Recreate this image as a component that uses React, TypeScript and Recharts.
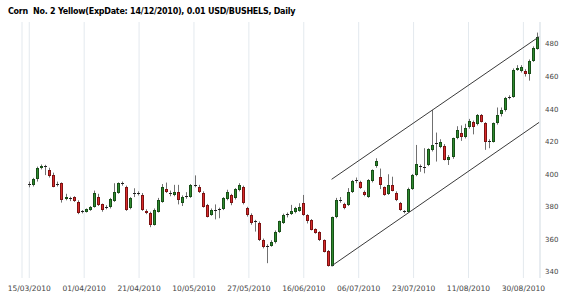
import { ComposedChart, Bar, XAxis, YAxis, CartesianGrid, ReferenceLine } from 'recharts';

const tickLabels = [
  '15/03/2010', '01/04/2010', '21/04/2010', '10/05/2010', '27/05/2010',
  '16/06/2010', '06/07/2010', '23/07/2010', '11/08/2010', '30/08/2010',
];
const priceTicks = [340, 360, 380, 400, 420, 440, 460, 480];

const open = [
  393.5, 393.3, 396.9, 403.7, 405.3, 402.7, 399.6, 393.5, 394.5, 385,
  385.5, 385.9, 383.2, 377, 377, 378.1, 380.1, 386.3, 381.6, 379.6,
  379.7, 383.8, 388.7, 394.3, 392.4, 379.1, 388, 388.2, 387.3, 377.7,
  376.5, 368.9, 377, 383.2, 390.8, 388.7, 387.3, 389.4, 382.2, 386.3,
  386.3, 393, 392.4, 388.7, 381.2, 375, 378.2, 378.3, 378.5, 384.6,
  387.3, 385.3, 390.4, 392.4, 379.1, 375, 370.5, 370.3, 359.7, 355.3,
  356, 358.1, 364.8, 370.3, 375, 375.7, 377, 377.7, 382.2, 375,
  372, 366.2, 364.8, 359.7, 353.1, 343.7, 373.6, 383.8, 381.8, 381.2,
  389.2, 395.8, 395, 389.4, 386.1, 395.8, 404.9, 398.1, 391.9, 388,
  393.2, 388.8, 382.2, 377.1, 377.1, 390.9, 399.3, 404.8, 404.3, 405.5,
  415, 418.5, 417, 417.5, 409, 410.3, 422.1, 425.2, 422.6, 428.9,
  431.9, 430.8, 436.2, 431.3, 420.1, 420.1, 431.3, 437, 439.3, 446.8,
  447.7, 464.3, 463.5, 463.7, 461.5, 469.7, 477.2,
];
const high = [
  395.5, 397.8, 404.7, 406, 405.8, 404, 401, 395.5, 395, 388,
  386.2, 386.5, 384, 378, 379, 380.5, 390, 388, 382, 381,
  385.5, 394.5, 395, 395.5, 393, 386, 391.4, 389.5, 388.5, 378.5,
  377, 379, 385.5, 394, 394.9, 390, 393.5, 393.5, 387, 389,
  394, 399.3, 393.5, 389.5, 381.8, 379, 381.5, 379.5, 386, 390.5,
  388, 391.5, 394.5, 393, 380, 376, 372, 371, 360.5, 357,
  359.5, 365.5, 371.5, 375.8, 376.5, 381.2, 380, 382.2, 387.3, 375.5,
  372.5, 366.8, 365, 360, 353.5, 374, 385.5, 386, 382.5, 391.5,
  396.5, 398, 396, 390, 397, 403, 409.8, 403.5, 392.5, 400,
  398.5, 389.5, 383, 378, 391.8, 400.2, 418, 406, 416, 416,
  439.5, 425.6, 421.5, 418.5, 411.8, 422.5, 429.5, 430, 431, 434,
  433, 437, 437, 432, 421.5, 431.8, 441, 441, 447.5, 448.5,
  465, 467, 467, 464.5, 470.5, 478.5, 487,
];
const low = [
  392, 392.5, 395.5, 403, 399.5, 398, 392, 392.5, 382.6, 384,
  383.5, 383, 375.5, 376, 376.5, 377.5, 379.5, 380.5, 377, 378.5,
  379, 383, 388, 393, 377.5, 378.5, 386, 387, 377.5, 375.5,
  367.5, 368.5, 376.5, 382.5, 388.5, 386.5, 386.5, 381.5, 380.5, 385,
  385.5, 392, 388.5, 379.5, 373.5, 374.5, 372.3, 373, 378, 384,
  381, 384.5, 389.5, 381.5, 374, 369, 364.8, 359, 354.5, 345.4,
  355.5, 357.5, 364, 369.5, 373.5, 375, 376, 377, 374.5, 369.8,
  365.5, 363.5, 359, 352, 343.3, 343.4, 373, 382.5, 378.5, 380.5,
  388.5, 394.5, 391, 386.5, 385.5, 395, 404, 390.9, 386.8, 387.3,
  389.5, 383.5, 377.5, 376, 376.6, 390.4, 398.8, 401.5, 400.6, 405,
  414, 407.8, 416, 408.5, 405.7, 409.5, 421.5, 420.5, 422, 428,
  424.5, 430, 431.8, 415, 416, 419.5, 430.5, 435.5, 438.5, 446,
  447, 463.5, 462.5, 460, 457.5, 469, 476.5,
];
const close = [
  394.3, 396.9, 403.7, 405.3, 404.8, 399, 392.4, 394.3, 384.2, 385.8,
  385, 383.8, 376.5, 377.3, 378.5, 379.7, 388.7, 381.2, 378.1, 380.2,
  384.6, 389.4, 394.5, 394.7, 378.1, 385.3, 388.6, 388, 378.1, 376,
  368.9, 378.1, 384.2, 392.4, 389.3, 388.2, 389.4, 384.2, 386.3, 386.7,
  393.4, 393.6, 389.3, 380.1, 374, 378.1, 378, 378.6, 385.3, 389.4,
  382.2, 390.8, 393.5, 382.2, 375, 369.9, 371.2, 359.7, 355.2, 355.8,
  358.7, 364.8, 371, 375, 375.3, 377.7, 379, 380.1, 375, 371,
  366, 364.2, 359.7, 352.5, 343.7, 373.6, 384.5, 384.2, 379.1, 389.4,
  396, 396.2, 391.8, 387.1, 396.2, 402.4, 408.1, 393.7, 387.3, 393.7,
  389.9, 384.2, 378.1, 377.4, 390.9, 399.6, 406.3, 404.3, 404.5, 415.3,
  418, 419.2, 419.8, 408.8, 410.4, 422.1, 427.2, 423.1, 428.7, 432.8,
  429.2, 436.4, 432.3, 420.1, 420.4, 431.3, 436.4, 439.7, 446.6, 447.5,
  464, 465.5, 466, 461.5, 469.8, 477.8, 484.3,
];

// channel lines drawn on the chart (bar index, price)
const upperTrend = [{ x: 75, y: 396.9 }, { x: 126.5, y: 484.5 }];
const lowerTrend = [{ x: 75, y: 343.7 }, { x: 126.5, y: 431.9 }];

const rows = close.map((c, i) => ({ i, o: open[i], h: high[i], l: low[i], c }));

const TICK_STEP = 13.62;
const xTicks = tickLabels.map((_, k) => k * TICK_STEP);

const UP = { fill: '#2e8b2e', stroke: '#184f18' };
const DOWN = { fill: '#d92b2b', stroke: '#7e1212' };

const Candle = (props: any) => {
  const { x, y, width, height, payload } = props;
  if (!payload) return null;
  const { o, h, l, c } = payload;
  const top = Math.min(y, y + height);
  const bottom = Math.max(y, y + height);
  const k = h === l ? 0 : (bottom - top) / (h - l);
  const py = (v: number) => top + (h - v) * k;
  const left = Math.round(x + width / 2 - 1.5);
  const col = c >= o ? UP : DOWN;
  const bTop = Math.round(py(Math.max(o, c)));
  const bBot = Math.round(py(Math.min(o, c)));
  return (
    <g>
      <line x1={left + 1.5} x2={left + 1.5} y1={py(h)} y2={py(l)} stroke="#707070" strokeWidth={1} />
      {bBot - bTop < 2 ? (
        <rect x={left} y={bTop} width={3} height={1} fill="#222" />
      ) : (
        <rect
          x={left + 0.5}
          y={bTop + 0.5}
          width={2}
          height={bBot - bTop - 1}
          fill={col.fill}
          stroke={col.stroke}
          strokeWidth={1}
        />
      )}
    </g>
  );
};

const App = () => {
  return (
    <div style={{ position: 'absolute', left: 0, top: 0, width: 570, height: 295, background: '#fff' }}>
      <div
        style={{
          position: 'absolute',
          left: 8,
          top: 7,
          fontFamily: '"DejaVu Sans", sans-serif',
          fontWeight: 'bold',
          fontSize: 8,
          lineHeight: '10px',
          letterSpacing: -0.25,
          color: '#000',
          whiteSpace: 'pre',
        }}
      >
        Corn  No. 2 Yellow(ExpDate: 14/12/2010), 0.01 USD/BUSHELS, Daily
      </div>
      <ComposedChart width={570} height={295} data={rows} margin={{ top: 22, right: 0, bottom: 0, left: 22 }}>
        <CartesianGrid vertical horizontal={false} stroke="#e3e9ee" />
        <XAxis
          dataKey="i"
          type="number"
          domain={[-1.8, 126.7]}
          ticks={xTicks}
          interval={0}
          height={17}
          axisLine={false}
          tickLine={false}
          tickSize={6}
          tickMargin={2}
          tick={{ fontSize: 7.5, fill: '#444', fontFamily: '"DejaVu Sans", sans-serif' }}
          tickFormatter={(v: number) => tickLabels[Math.round(v / TICK_STEP)] ?? ''}
          allowDataOverflow
        />
        <YAxis
          orientation="right"
          width={30}
          domain={[336.3, 493.5]}
          ticks={priceTicks}
          interval={0}
          allowDataOverflow
          axisLine={{ stroke: '#dfe5ea' }}
          tickLine={false}
          tickSize={3}
          tickMargin={2}
          tick={{ fontSize: 7, fill: '#444', fontFamily: '"DejaVu Sans", sans-serif', textAnchor: 'start' }}
        />
        <Bar
          dataKey={(d: any) => [d.l, d.h]}
          barSize={3}
          shape={<Candle />}
          isAnimationActive={false}
        />
        <ReferenceLine segment={upperTrend} stroke="#3a3a3a" strokeWidth={1} />
        <ReferenceLine segment={lowerTrend} stroke="#3a3a3a" strokeWidth={1} />
      </ComposedChart>
    </div>
  );
};

export default App;
